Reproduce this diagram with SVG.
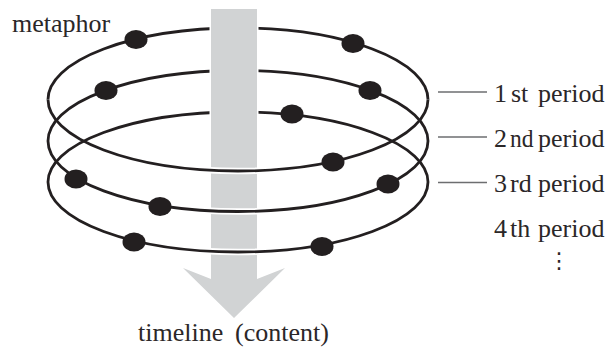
<svg xmlns="http://www.w3.org/2000/svg" width="609" height="347" viewBox="0 0 609 347">
  <style>
    .ring { fill: none; stroke: #231f20; stroke-width: 2.8; }
    .halo { fill: none; stroke: #ffffff; stroke-width: 6.5; }
    .dot { fill: #231f20; }
    .leader { stroke: #6d6e70; stroke-width: 1.3; }
  </style>
  <defs>
    <clipPath id="barClip">
      <rect x="205" y="0" width="58" height="347"/>
    </clipPath>
  </defs>
  <rect width="609" height="347" fill="#ffffff"/>

  <!-- far halves of the three rings, passing behind the time arrow -->
  <g id="rings-back">
    <path class="ring" d="M48 99.5 A190 71.5 0 0 1 428 99.5"/>
    <path class="ring" d="M48 141 A190 70.5 0 0 1 428 141"/>
    <path class="ring" d="M48 182 A190 70 0 0 1 428 182"/>
  </g>

  <!-- time arrow -->
  <g id="arrow">
    <polygon points="211,9 257,9 257,279 285,268 234,318 183,268 211,279"
             fill="#d1d3d4" stroke="#ffffff" stroke-width="3" paint-order="stroke"/>
  </g>

  <!-- near halves, crossing in front of the arrow -->
  <g id="rings-front">
    <g clip-path="url(#barClip)">
      <path class="halo" d="M428 99.5 A190 71.5 0 0 1 48 99.5"/>
      <path class="halo" d="M428 141 A190 70.5 0 0 1 48 141"/>
      <path class="halo" d="M428 182 A190 70 0 0 1 48 182"/>
    </g>
    <path class="ring" d="M428 99.5 A190 71.5 0 0 1 48 99.5"/>
    <path class="ring" d="M428 141 A190 70.5 0 0 1 48 141"/>
    <path class="ring" d="M428 182 A190 70 0 0 1 48 182"/>
  </g>

  <!-- events on each period -->
  <g id="ring-1">
    <ellipse class="dot" cx="136" cy="39.5" rx="11.5" ry="9.5"/>
    <ellipse class="dot" cx="353" cy="43.5" rx="11.5" ry="9.5"/>
    <ellipse class="dot" cx="333" cy="162" rx="11.5" ry="9.5"/>
  </g>
  <g id="ring-2">
    <ellipse class="dot" cx="106" cy="90.5" rx="11.5" ry="9.5"/>
    <ellipse class="dot" cx="370" cy="90.5" rx="11.5" ry="9.5"/>
    <ellipse class="dot" cx="76" cy="179" rx="11.5" ry="9.5"/>
    <ellipse class="dot" cx="160" cy="206.5" rx="11.5" ry="9.5"/>
    <ellipse class="dot" cx="388" cy="184" rx="11.5" ry="9.5"/>
  </g>
  <g id="ring-3">
    <ellipse class="dot" cx="292" cy="114" rx="11.5" ry="9.5"/>
    <ellipse class="dot" cx="134" cy="242" rx="11.5" ry="9.5"/>
    <ellipse class="dot" cx="322" cy="246.5" rx="11.5" ry="9.5"/>
  </g>

  <!-- leader lines to the period labels -->
  <g id="connectors">
    <line class="leader" x1="438" y1="92" x2="487" y2="92"/>
    <line class="leader" x1="438" y1="137" x2="487" y2="137"/>
    <line class="leader" x1="438" y1="182.5" x2="487" y2="182.5"/>
  </g>

  <g id="labels" font-family="Liberation Serif, DejaVu Serif, serif" font-size="26" fill="#2b2728">
    <text x="12" y="32">metaphor</text>
    <text y="102"><tspan x="494">1</tspan><tspan x="511">st</tspan><tspan x="538">period</tspan></text>
    <text y="147"><tspan x="494">2</tspan><tspan x="510" textLength="23.5" lengthAdjust="spacingAndGlyphs">nd</tspan><tspan x="538">period</tspan></text>
    <text y="192"><tspan x="494">3</tspan><tspan x="510">rd</tspan><tspan x="538">period</tspan></text>
    <text y="237"><tspan x="494">4</tspan><tspan x="510">th</tspan><tspan x="538">period</tspan></text>
    <text x="559" y="268" text-anchor="middle" font-family="DejaVu Sans, sans-serif" font-size="22">⋮</text>
    <text y="341"><tspan x="138">timeline</tspan><tspan x="235">(content)</tspan></text>
  </g>
</svg>
